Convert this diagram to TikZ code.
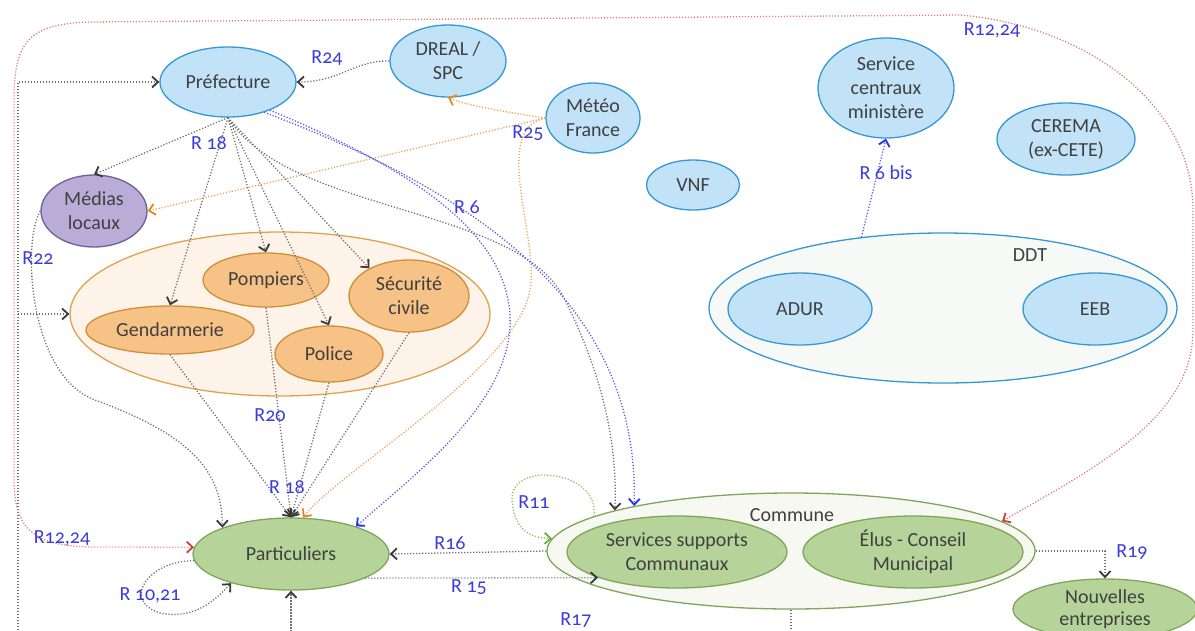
\documentclass[tikz,border=0pt]{standalone}
\usepackage{fontspec}
\setmainfont{Carlito}
\newfontfamily\relfont[Numbers=OldStyle]{Carlito}
\usetikzlibrary{shapes.geometric, arrows.meta, positioning}

\definecolor{texte}{HTML}{404040}
\definecolor{bleufond}{HTML}{C2E3F7}
\definecolor{bleutrait}{HTML}{3597D3}
\definecolor{violetfond}{HTML}{B9ACD6}
\definecolor{violettrait}{HTML}{6E6096}
\definecolor{orangefond}{HTML}{F6C286}
\definecolor{orangetrait}{HTML}{CF8F3A}
\definecolor{pechefond}{HTML}{FDF3E8}
\definecolor{pechetrait}{HTML}{E0A24E}
\definecolor{vertfond}{HTML}{B6D49A}
\definecolor{verttrait}{HTML}{7FA55A}
\definecolor{communefond}{HTML}{F6F8F1}
\definecolor{ddtfond}{HTML}{F7F9F7}
\definecolor{etiquette}{HTML}{3B3BDE}
\definecolor{lgris}{HTML}{707070}
\definecolor{pgris}{HTML}{3A3A3A}
\definecolor{lbleu}{HTML}{5A5AE8}
\definecolor{pbleu}{HTML}{2233E6}
\definecolor{lorange}{HTML}{EBA257}
\definecolor{porange}{HTML}{E08A20}
\definecolor{lrouge}{HTML}{DA7C7C}
\definecolor{prouge}{HTML}{C84040}
\definecolor{lvert}{HTML}{86C45E}
\definecolor{pvert}{HTML}{6AB040}

\tikzset{
  acteur/.style={ellipse, inner sep=0pt, align=center, text=texte, line width=1.3pt,
    font=\fontsize{20}{24}\selectfont},
  bleu/.style={acteur, draw=bleutrait, fill=bleufond},
  violet/.style={acteur, draw=violettrait, fill=violetfond},
  orange/.style={acteur, draw=orangetrait, fill=orangefond},
  vert/.style={acteur, draw=verttrait, fill=vertfond},
  groupe/.style={ellipse, inner sep=0pt, line width=1.3pt},
  nomgroupe/.style={text=texte, font=\fontsize{20}{24}\selectfont},
  rel/.style={line width=1.3pt, dash pattern=on 1.2pt off 1.8pt},
  relgris/.style={rel, lgris, -{Straight Barb[length=6pt,width=11pt,line width=1.8pt,color=pgris]}},
  relbleu/.style={rel, lbleu, -{Straight Barb[length=6pt,width=11pt,line width=1.8pt,color=pbleu]}},
  relorange/.style={rel, lorange, -{Straight Barb[length=6pt,width=11pt,line width=1.8pt,color=porange]}},
  relrouge/.style={rel, lrouge, {Straight Barb[length=6pt,width=11pt,line width=1.8pt,color=prouge]}-{Straight Barb[length=6pt,width=11pt,line width=1.8pt,color=prouge]}},
  relvert/.style={rel, lvert, -{Straight Barb[length=6pt,width=11pt,line width=1.8pt,color=pvert]}},
  etiq/.style={text=etiquette, font=\relfont\fontsize{20}{24}\selectfont, inner sep=1pt},
}

\begin{document}
\begin{tikzpicture}[x=1pt, y=-1pt]
  \useasboundingbox (0,0) rectangle (1195,630);
  \clip (0,0) rectangle (1195,630);

  \node[groupe, draw=pechetrait, fill=pechefond, minimum width=420, minimum height=164] (groupe) at (280,314) {};
  \node[groupe, draw=bleutrait, fill=ddtfond, minimum width=468, minimum height=150] (ddt) at (943,308) {};
  \node[groupe, draw=verttrait, fill=communefond, minimum width=488, minimum height=116] (comm) at (791,551) {};
  \node[nomgroupe] (ddtnom) at (1030,255) {DDT};
  \node[nomgroupe] (commnom) at (792,515) {Commune};

  \node[bleu, minimum width=136, minimum height=70] (pref) at (228,82) {Préfecture};
  \node[bleu, minimum width=116, minimum height=72] (dreal) at (448,61) {DREAL /\\SPC};
  \node[bleu, minimum width=94, minimum height=70] (meteo) at (593,118) {Météo\\France};
  \node[bleu, minimum width=136, minimum height=100] (servc) at (886,88) {Service\\centraux\\ministère};
  \node[bleu, minimum width=138, minimum height=72] (cerema) at (1066,139) {CEREMA\\(ex-CETE)};
  \node[bleu, minimum width=93, minimum height=50] (vnf) at (693,185) {VNF};
  \node[bleu, minimum width=144, minimum height=72] (adur) at (800,309) {ADUR};
  \node[bleu, minimum width=144, minimum height=72] (eeb) at (1095,309) {EEB};
  \node[violet, minimum width=106, minimum height=72] (medias) at (94,211) {Médias\\locaux};
  \node[orange, minimum width=126, minimum height=54] (pomp) at (266,280) {Pompiers};
  \node[orange, minimum width=120, minimum height=72] (secu) at (409,296) {Sécurité\\civile};
  \node[orange, minimum width=168, minimum height=48] (gend) at (170,330) {Gendarmerie};
  \node[orange, minimum width=108, minimum height=56] (police) at (329,354) {Police};
  \node[vert, minimum width=196, minimum height=72] (part) at (291,554) {Particuliers};
  \node[vert, minimum width=220, minimum height=72] (serv) at (677,552) {Services supports\\Communaux};
  \node[vert, minimum width=220, minimum height=72] (elus) at (913,552) {Élus - Conseil\\Municipal};
  \node[vert, minimum width=184, minimum height=60, font=\fontsize{20}{22}\selectfont] (nouv) at (1105,609) {Nouvelles\\entreprises};

  \coordinate (busbas) at (18,645);
  \draw[relgris] (busbas) |- (pref.west);
  \draw[relgris] (busbas |- groupe.west) -- (groupe.west);

  \draw[relrouge] (comm.8) .. controls (1090,470) and (1193,420) .. (1193,330) -- (1193,210)
    .. controls (1193,100) and (1080,25) .. (960,15) -- (90,22) .. controls (30,24) and (14,40) .. (14,100)
    -- (14,480) .. controls (14,535) and (40,547) .. (100,547) -- (part.176);

  \draw[relgris] (dreal.west) .. controls (355,60) and (340,82) .. (pref.east);
  \draw[relorange] (meteo.west) .. controls (505,112) and (470,106) .. (dreal.south);
  \draw[relorange] (meteo.west) -- (medias.east);
  \draw[relorange] (meteo.west) .. controls (490,130) and (540,240) .. (530,290)
    .. controls (515,370) and (340,470) .. (part.72);

  \foreach \cible in {medias.north, gend.north, pomp.north, police.north, secu.145}
    \draw[relgris] (pref.south) -- (\cible);
  \draw[relgris] (pref.south) .. controls (290,215) and (520,205) .. (565,300)
    .. controls (600,370) and (618,440) .. (comm.167);
  \draw[relbleu] (pref.-40) .. controls (470,190) and (640,300) .. (comm.164);
  \draw[relbleu] (pref.-34) .. controls (420,172) and (505,235) .. (510,315)
    .. controls (514,400) and (420,470) .. (part.23);

  \foreach \source in {gend.south, pomp.south, police.south, secu.south}
    \draw[relgris] (\source) -- (part.north);
  \draw[relgris] (medias.west) .. controls (22,240) and (28,375) .. (95,400)
    .. controls (190,435) and (222,470) .. (part.159);
  \draw[relgris] (part.184) .. controls (150,560) and (120,600) .. (160,613)
    .. controls (195,620) and (215,600) .. (part.206);
  \draw[relgris] (comm.south) -- ++(0,40) -| (part.south);
  \draw[relgris] (comm.west) -- (part.east);
  \draw[relgris] (part.-18) -- (serv.198);
  \draw[relvert] (comm.170) .. controls (600,470) and (510,460) .. (512,500)
    .. controls (514,530) and (530,538) .. (comm.177);
  \draw[relgris] (comm.east) -| (nouv.north);
  \draw[relbleu] (ddt.139) -- (servc.south);

  \node[etiq] at (327,58) {R24};
  \node[etiq] at (528,133) {R25};
  \node[etiq] at (209,143) {R 18};
  \node[etiq] at (467,207) {R 6};
  \node[etiq] at (38,258) {R22};
  \node[etiq] at (270,415) {R20};
  \node[etiq] at (287,487) {R 18};
  \node[etiq] at (62,538) {R12,24};
  \node[etiq] at (150,595) {R 10,21};
  \node[etiq] at (450,543) {R16};
  \node[etiq] at (469,587) {R 15};
  \node[etiq] at (534,502) {R11};
  \node[etiq] at (576,620) {R17};
  \node[etiq] at (1132,552) {R19};
  \node[etiq] at (886,173) {R 6 bis};
  \node[etiq] at (992,30) {R12,24};
\end{tikzpicture}
\end{document}
